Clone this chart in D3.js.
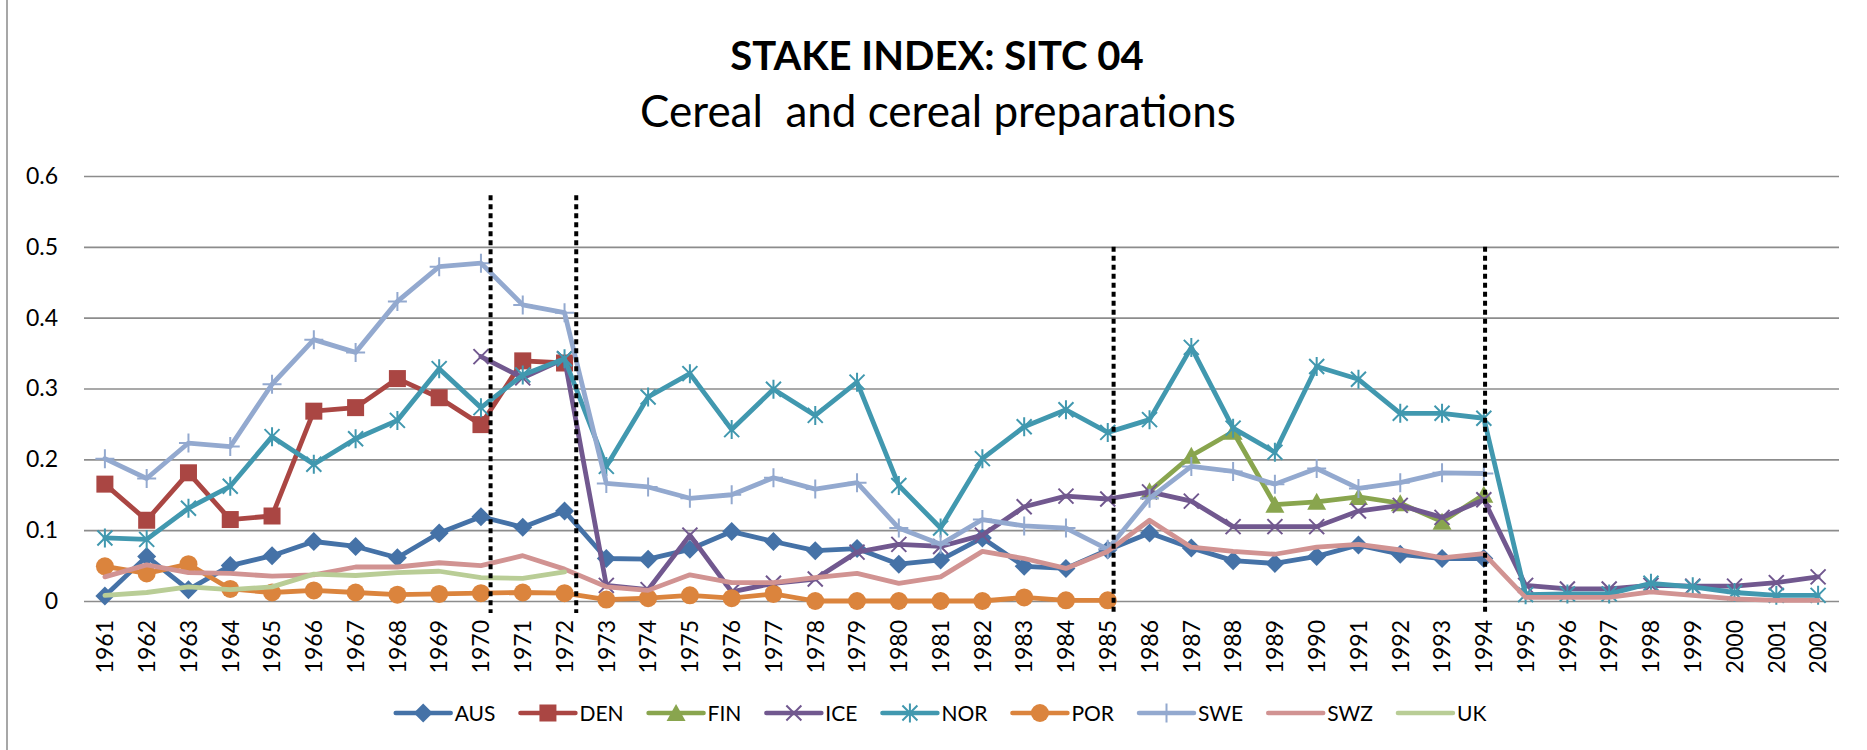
<!DOCTYPE html>
<html><head><meta charset="utf-8">
<script src="https://cdn.jsdelivr.net/npm/d3@7"></script>
<style>
body{margin:0;background:#fff}
svg{display:block}
text{font-family:Lato,"Open Sans",sans-serif;fill:#000}
</style>
</head><body>
<svg id="chart" width="1867" height="750"></svg>
<script>
// ---------- DATA ----------
const years = ["1961","1962","1963","1964","1965","1966","1967","1968","1969","1970",
  "1971","1972","1973","1974","1975","1976","1977","1978","1979","1980",
  "1981","1982","1983","1984","1985","1986","1987","1988","1989","1990",
  "1991","1992","1993","1994","1995","1996","1997","1998","1999","2000","2001","2002"];
const yTickValues = [0, 0.1, 0.2, 0.3, 0.4, 0.5, 0.6];
const yTickLabels = ["0", "0.1", "0.2", "0.3", "0.4", "0.5", "0.6"];

const AUS = [0.007,0.063,0.016,0.050,0.064,0.084,0.077,0.061,0.096,0.119,
  0.104,0.127,0.060,0.059,0.073,0.098,0.084,0.071,0.074,0.052,
  0.058,0.089,0.049,0.046,0.072,0.096,0.075,0.057,0.053,0.063,
  0.079,0.066,0.060,0.060,null,null,null,null,null,null,null,null];
const DEN = [0.165,0.114,0.181,0.115,0.120,0.268,0.273,0.314,0.287,0.249,
  0.339,0.336,null,null,null,null,null,null,null,null,
  null,null,null,null,null,null,null,null,null,null,
  null,null,null,null,null,null,null,null,null,null,null,null];
const FIN = [null,null,null,null,null,null,null,null,null,null,
  null,null,null,null,null,null,null,null,null,null,
  null,null,null,null,null,0.155,0.205,0.239,0.136,0.140,
  0.147,0.138,0.112,0.150,null,null,null,null,null,null,null,null];
const ICE = [null,null,null,null,null,null,null,null,null,0.345,
  0.315,0.342,0.022,0.016,0.093,0.013,0.025,0.031,0.069,0.080,
  0.077,0.093,0.133,0.148,0.144,0.154,0.141,0.105,0.105,0.105,
  0.127,0.135,0.118,0.143,0.022,0.017,0.017,0.022,0.021,0.021,0.026,0.034];
const NOR = [0.089,0.087,0.131,0.162,0.232,0.193,0.229,0.255,0.328,0.273,
  0.319,0.342,0.190,0.288,0.321,0.242,0.299,0.262,0.309,0.163,
  0.103,0.201,0.246,0.270,0.238,0.256,0.358,0.244,0.210,0.331,
  0.313,0.265,0.265,0.258,0.009,0.010,0.010,0.025,0.020,0.012,0.008,0.008];
const POR = [0.049,0.039,0.052,0.017,0.012,0.015,0.012,0.009,0.010,0.011,
  0.012,0.011,0.002,0.004,0.008,0.004,0.010,0.000,0.000,0.000,
  0.000,0.000,0.005,0.001,0.001,null,null,null,null,null,
  null,null,null,null,null,null,null,null,null,null,null,null];
const SWE = [0.201,0.173,0.223,0.218,0.306,0.369,0.351,0.423,0.472,0.477,
  0.418,0.407,0.166,0.161,0.145,0.150,0.174,0.158,0.167,0.103,
  0.080,0.115,0.106,0.103,0.073,0.145,0.190,0.183,0.165,0.187,
  0.159,0.167,0.181,0.180,null,null,null,null,null,null,null,null];
const SWZ = [0.034,0.051,0.040,0.039,0.035,0.037,0.048,0.048,0.054,0.050,
  0.064,0.045,0.020,0.015,0.037,0.026,0.026,0.033,0.039,0.025,
  0.034,0.070,0.060,0.046,0.070,0.114,0.076,0.070,0.066,0.076,
  0.080,0.072,0.061,0.067,0.005,0.005,0.005,0.013,0.008,0.003,0.001,0.001];
const UK = [0.008,0.012,0.020,0.016,0.020,0.038,0.036,0.040,0.042,0.033,
  0.032,0.041,null,null,null,null,null,null,null,null,
  null,null,null,null,null,null,null,null,null,null,
  null,null,null,null,null,null,null,null,null,null,null,null];

const seriesNames = ["AUS","DEN","FIN","ICE","NOR","POR","SWE","SWZ","UK"];
const seriesValues = [AUS, DEN, FIN, ICE, NOR, POR, SWE, SWZ, UK];
const seriesColors = ["#4572A7","#AA4643","#89A54E","#71588F","#4198AF","#DB843D","#93A9CF","#D19392","#B9CD96"];
const seriesMarkers = ["diamond","square","triangle","x","star","circle","plus","none","none"];

// dotted separator lines: position in year units, top value
const breakYears = [1970.23, 1972.28, 1985.14, 1994.03];
const breakTops = [0.573, 0.573, 0.5, 0.5];
const breakBottom = -0.017;

// ---------- LAYOUT ----------
const svg = d3.select("#chart");
const plotLeft = 84, plotRight = 1839, plotTop = 176, plotBottom = 601;

const x = d3.scaleBand().domain(years).range([plotLeft, plotRight]).padding(0);
const xc = d => x(d) + x.bandwidth() / 2;
const xYear = d3.scaleLinear().domain([1961, 2002]).range([xc("1961"), xc("2002")]);
const y = d3.scaleLinear().domain([0, 0.6]).range([plotBottom, plotTop]);

// left chart border
svg.append("line").attr("x1", 7).attr("x2", 7).attr("y1", 0).attr("y2", 750)
  .attr("stroke", "#8a8a8a").attr("stroke-width", 1.5);

// title
svg.append("text").attr("x", 937).attr("y", 70).attr("text-anchor", "middle")
  .style("font-size", "40px").style("font-weight", "bold").text("STAKE INDEX: SITC 04");
svg.append("text").attr("x", 938).attr("y", 127).attr("text-anchor", "middle")
  .style("font-size", "44px").text("Cereal\u00A0 and cereal preparations");

// gridlines
const yAxis = d3.axisLeft(y).tickValues(yTickValues).tickSize(-(plotRight - plotLeft))
  .tickFormat((d, i) => yTickLabels[i]).tickPadding(26);
const gy = svg.append("g").attr("transform", `translate(${plotLeft},0)`).call(yAxis);
gy.select(".domain").remove();
gy.selectAll(".tick line").attr("stroke", "#8c8c8c").attr("stroke-width", 1.6);
gy.selectAll(".tick text").style("font-size", "23px").style("font-family", "Lato, sans-serif")
  .attr("fill", "#000");

// x axis labels
const xAxis = d3.axisBottom(x).tickSize(0).tickPadding(0);
const gx = svg.append("g").attr("transform", `translate(0,${plotBottom})`).call(xAxis);
gx.select(".domain").remove();
gx.selectAll(".tick text")
  .attr("transform", "translate(0,19) rotate(-90)")
  .attr("text-anchor", "end").attr("dy", "0.36em").attr("y", 0).attr("x", 0)
  .style("font-size", "23px").style("font-family", "Lato, sans-serif").attr("fill", "#000");

// markers
function drawMarker(g, type, color, cx, cy) {
  const s = 9.5;
  if (type === "diamond") {
    g.append("path").attr("d", `M${cx},${cy - s}L${cx + s},${cy}L${cx},${cy + s}L${cx - s},${cy}Z`).attr("fill", color);
  } else if (type === "square") {
    g.append("rect").attr("x", cx - 8.5).attr("y", cy - 8.5).attr("width", 17).attr("height", 17).attr("fill", color);
  } else if (type === "triangle") {
    g.append("path").attr("d", `M${cx},${cy - 9}L${cx + 9.5},${cy + 8}L${cx - 9.5},${cy + 8}Z`).attr("fill", color);
  } else if (type === "circle") {
    g.append("circle").attr("cx", cx).attr("cy", cy).attr("r", 9).attr("fill", color);
  } else if (type === "x") {
    g.append("path").attr("d", `M${cx - 7.5},${cy - 7.5}L${cx + 7.5},${cy + 7.5}M${cx - 7.5},${cy + 7.5}L${cx + 7.5},${cy - 7.5}`)
      .attr("stroke", color).attr("stroke-width", 2).attr("fill", "none");
  } else if (type === "star") {
    g.append("path").attr("d", `M${cx - 7.5},${cy - 7.5}L${cx + 7.5},${cy + 7.5}M${cx - 7.5},${cy + 7.5}L${cx + 7.5},${cy - 7.5}M${cx},${cy - 9.5}L${cx},${cy + 9.5}`)
      .attr("stroke", color).attr("stroke-width", 2).attr("fill", "none");
  } else if (type === "plus") {
    g.append("path").attr("d", `M${cx - 9.5},${cy}L${cx + 9.5},${cy}M${cx},${cy - 9.5}L${cx},${cy + 9.5}`)
      .attr("stroke", color).attr("stroke-width", 2).attr("fill", "none");
  }
}

// series lines
const line = d3.line().defined(d => d.v != null).x(d => xc(d.year)).y(d => y(d.v));
seriesNames.forEach((name, i) => {
  const pts = years.map((yr, j) => ({ year: yr, v: seriesValues[i][j] }));
  const g = svg.append("g").attr("class", "series-" + name);
  g.append("path").datum(pts).attr("d", line).attr("fill", "none")
    .attr("stroke", seriesColors[i]).attr("stroke-width", 4.8)
    .attr("stroke-linejoin", "round").attr("stroke-linecap", "round");
  pts.filter(d => d.v != null).forEach(d => drawMarker(g, seriesMarkers[i], seriesColors[i], xc(d.year), y(d.v)));
});

// dotted break lines
breakYears.forEach((yr, i) => {
  svg.append("line").attr("x1", xYear(yr)).attr("x2", xYear(yr))
    .attr("y1", y(breakTops[i])).attr("y2", y(breakBottom))
    .attr("stroke", "#000").attr("stroke-width", 4).attr("stroke-dasharray", "5,4");
});

// legend
const legY = 713;
const leg = svg.append("g");
const items = [];
let cur = 0;
const legGap = 25;
seriesNames.forEach((name, i) => {
  const g = leg.append("g");
  g.append("line").attr("x1", 0).attr("x2", 55).attr("y1", 0).attr("y2", 0)
    .attr("stroke", seriesColors[i]).attr("stroke-width", 4.5).attr("stroke-linecap", "round");
  drawMarker(g, seriesMarkers[i], seriesColors[i], 27.5, 0);
  const t = g.append("text").attr("x", 59).attr("y", 0).attr("dy", "0.36em")
    .style("font-size", "21px").text(name);
  const w = 59 + t.node().getComputedTextLength();
  items.push({ g, x: cur });
  cur += w + legGap;
});
const total = cur - legGap;
const legStart = 941 - total / 2;
items.forEach(it => it.g.attr("transform", `translate(${legStart + it.x},${legY})`));
</script>
</body></html>
